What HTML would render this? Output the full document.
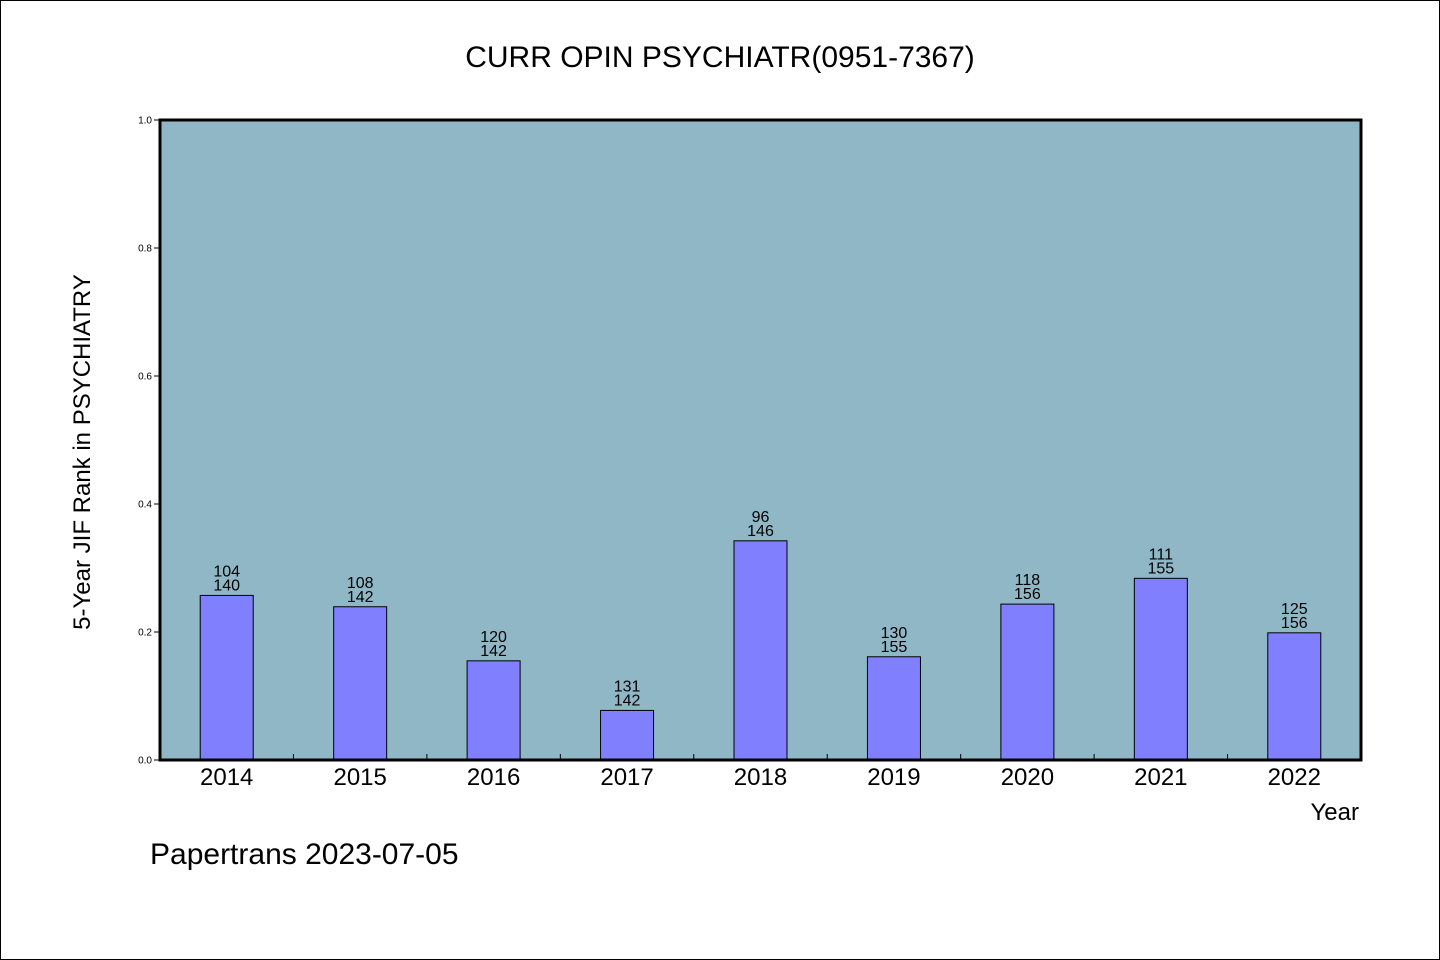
<!DOCTYPE html>
<html><head><meta charset="utf-8"><style>
body{margin:0;background:#fff;}
svg{display:block;font-family:"WenQuanYi Zen Hei","Liberation Sans",sans-serif;}
</style></head><body>
<svg id="c" width="1440" height="960" viewBox="0 0 1440 960">
<rect x="0.5" y="0.5" width="1439" height="959" fill="#fff" stroke="#000"/>
<text x="720" y="67" text-anchor="middle" font-size="30">CURR OPIN PSYCHIATR(0951-7367)</text>
<rect x="160" y="120" width="1201" height="640" fill="#8fb7c6"/>
<g id="bars"></g>
<g id="yticks"></g>
<g id="xticks"></g>
<rect x="160" y="120" width="1201" height="640" fill="none" stroke="#000" stroke-width="3"/>
<text transform="translate(90,452) rotate(-90)" text-anchor="middle" font-size="24">5-Year JIF Rank in PSYCHIATRY</text>
<text x="1359" y="820" text-anchor="end" font-size="24">Year</text>
<text x="150" y="864" font-size="30">Papertrans 2023-07-05</text>
</svg>
<script>
const years=["2014","2015","2016","2017","2018","2019","2020","2021","2022"];
const ranks=[104,108,120,131,96,130,118,111,125];
const totals=[140,142,142,142,146,155,156,155,156];
const yTicks=[0,0.2,0.4,0.6,0.8,1.0];
const NS="http://www.w3.org/2000/svg";
const X0=160,W=1201,Y0=760,H=640;
const band=W/years.length;
const xc=i=>X0+band*(i+0.5);
const ys=v=>Y0-v*H;
function mk(t,a,p){const e=document.createElementNS(NS,t);for(const k in a)e.setAttribute(k,a[k]);p.appendChild(e);return e;}
const gb=document.getElementById('bars'),gy=document.getElementById('yticks'),gx=document.getElementById('xticks');
years.forEach((y,i)=>{
 const v=(totals[i]-ranks[i])/totals[i];
 const r=mk('rect',{x:xc(i)-26.5,y:ys(v),width:53,height:Y0-ys(v),fill:'#8080ff',stroke:'#000','stroke-width':1},gb);
 
 
 const t1=mk('text',{x:xc(i),y:ys(v)-19,'text-anchor':'middle','font-size':16},gb);t1.textContent=ranks[i];
 
 
 const t2=mk('text',{x:xc(i),y:ys(v)-5,'text-anchor':'middle','font-size':16},gb);t2.textContent=totals[i];
 
 
 const xl=mk('text',{x:xc(i),y:785,'text-anchor':'middle','font-size':24},gx);xl.textContent=y;
 
 
 if(i>0){const tk=mk('line',{x1:X0+band*i,x2:X0+band*i,y1:Y0,y2:Y0-6,stroke:'#000'},gx);
 
 }
});
yTicks.forEach(v=>{
 const l=mk('line',{x1:X0-6,x2:X0,y1:ys(v),y2:ys(v),stroke:'#000'},gy);
 
 
 const t=mk('text',{x:X0-8,y:ys(v)+3.5,'text-anchor':'end','font-size':10},gy);t.textContent=v.toFixed(1);
 
 
});
</script>
</body></html>
